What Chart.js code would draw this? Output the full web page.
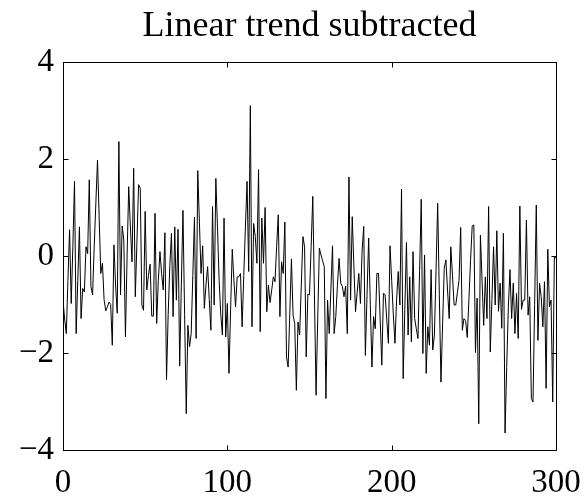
<!DOCTYPE html>
<html>
<head>
<meta charset="utf-8">
<script src="https://cdn.jsdelivr.net/npm/chart.js@4/dist/chart.umd.min.js"></script>
<style>
  html, body { margin: 0; padding: 0; background: #fff; }
  #wrap { width: 588px; height: 497px; position: relative; }
</style>
</head>
<body>
<div id="wrap"><canvas id="c" width="588" height="497"></canvas></div>
<script>
const titleText = "Linear trend subtracted";
const xTicks = [0, 100, 200, 300];
const yTicks = [-4, -2, 0, 2, 4];
const residuals = [
  -0.91, -1.3, -1.6, -0.5, 0.54, -0.98, 0.2, 1.54, -1.6, -0.5,
  0.6, -1.29, -0.67, -0.74, 0.19, 0.05, 1.57, -0.63, -0.8, 0.2,
  1.1, 1.98, 0.8, -0.36, -0.15, -0.9, -1.13, -1.05, -0.95, -1.0,
  -1.84, 0.23, -0.6, -1.18, 2.36, -0.8, 0.62, 0.33, -1.67, 0.0,
  1.43, 0.6, -0.12, 1.81, -0.84, 0.3, 1.47, 1.4, -1.01, -1.12,
  0.92, -0.7, -0.4, -0.17, -1.24, -1.24, 0.88, -1.39, -0.5, 0.09,
  -0.36, -0.7, 0.48, -2.55, -1.2, -0.2, 0.47, -1.25, 0.6, -0.91,
  0.55, -2.27, -0.6, 0.94, -1.2, -3.25, -1.43, -1.87, -1.6, -0.4,
  0.8, -1.7, 1.76, 0.7, -0.36, 0.21, -1.08, -0.6, -0.22, -0.9,
  -1.53, 1.02, -1.01, 1.6, 0.6, -0.5, -1.2, -1.63, 0.78, -1.67,
  -0.98, -2.42, -1.1, 0.14, -0.5, -1.05, -0.43, -0.43, -0.36, -1.46,
  -0.4, 0.6, 1.54, -0.32, 3.1, -1.46, 0.67, 0.4, -0.15, 1.78,
  -1.56, 0.78, -0.15, 1.0, -1.15, -0.6, -0.96, -0.7, -0.43, -0.53,
  0.2, 0.85, -1.25, -0.12, -0.36, 0.7, -2.08, -2.29, -1.2, -0.06,
  -1.22, -1.39, -2.77, -1.36, -1.63, -0.6, 0.4, 0.19, -2.08, -0.79,
  -0.8, 0.2, 1.23, -0.8, -2.87, -1.3, 0.16, 0.02, -0.1, -0.22,
  -2.94, -0.91, -1.6, -0.7, 0.21, -1.6, -1.25, -0.6, -0.05, -0.56,
  -0.63, -0.84, -0.62, -1.6, 1.63, -0.91, 0.81, -0.2, -1.15, -0.75,
  -0.36, -0.98, 0.1, 0.61, -2.05, -0.8, 0.37, -1.0, -2.29, -1.25,
  -1.5, -0.36, -0.36, -1.3, -2.25, -0.77, -0.8, -1.3, -1.8, 0.21,
  -0.5, -1.2, -1.8, -0.9, -0.32, -1.01, 1.38, -2.53, -1.1, 0.28,
  -1.63, -0.43, -1.77, 0.09, -1.29, -1.5, -1.7, -0.3, 1.17, -2.01,
  0.02, -2.42, -1.46, -1.84, -0.28, -1.94, -1.63, -0.3, 1.09, -0.8,
  -2.6, -1.4, -0.25, -0.08, -0.7, -1.29, 0.19, -0.4, -1.01, -1.01,
  -0.75, -0.5, 0.59, -1.53, -1.29, -1.33, -1.68, -0.9, -0.1, 0.62,
  0.64, -1.99, -0.87, -3.46, 0.43, -0.5, -1.43, -0.43, -1.29, 1.02,
  -1.98, -0.9, 0.19, -1.01, 0.52, -1.14, -0.56, -1.49, 0.47, -3.65,
  -2.3, -1.05, -0.28, -1.29, -0.56, -1.6, -0.77, -1.7, 1.03, -1.1,
  -0.91, -0.91, 0.74, -1.22, -0.84, -2.94, -3.01, -1.0, 1.05, -1.74,
  -0.56, -0.84, -1.46, -0.53, -2.73, 0.14, -1.05, -0.91, -3.01, -0.01,
  -0.05
];
const sampleIndex = residuals.map((_, i) => i);

const FONT = "'Liberation Serif', 'Times New Roman', serif";

const framePlugin = {
  id: 'frame',
  afterDraw(chart) {
    const { ctx, chartArea: a, scales } = chart;
    const L = Math.round(a.left) + 0.5, R = Math.round(a.right) + 0.5;
    const T = Math.round(a.top) + 0.5, B = Math.round(a.bottom) + 0.5;
    ctx.save();
    ctx.strokeStyle = '#000';
    ctx.lineWidth = 1;
    ctx.strokeRect(L, T, R - L, B - T);
    const len = 5;
    ctx.beginPath();
    xTicks.forEach(v => {
      const px = Math.round(scales.x.getPixelForValue(v)) + 0.5;
      ctx.moveTo(px, B); ctx.lineTo(px, B - len);
      ctx.moveTo(px, T); ctx.lineTo(px, T + len);
    });
    yTicks.forEach(v => {
      const py = Math.round(scales.y.getPixelForValue(v)) + 0.5;
      ctx.moveTo(L, py); ctx.lineTo(L + len, py);
      ctx.moveTo(R, py); ctx.lineTo(R - len, py);
    });
    ctx.stroke();
    // title centred over the plot area
    ctx.fillStyle = '#000';
    ctx.font = "36px " + FONT;
    ctx.textAlign = 'center';
    ctx.textBaseline = 'alphabetic';
    ctx.fillText(titleText, (a.left + a.right) / 2, 36);
    ctx.restore();
  }
};

new Chart(document.getElementById('c'), {
  type: 'line',
  data: {
    labels: sampleIndex,
    datasets: [{
      data: sampleIndex.map((x, i) => ({ x: x, y: residuals[i] })),
      borderColor: '#000',
      borderWidth: 1,
      pointRadius: 0,
      tension: 0,
      fill: false
    }]
  },
  options: {
    responsive: false,
    animation: false,
    devicePixelRatio: 1,
    layout: { padding: { left: 0, right: 32, top: 62, bottom: 0 } },
    plugins: { legend: { display: false }, title: { display: false }, tooltip: { enabled: false } },
    scales: {
      x: {
        type: 'linear',
        min: 0, max: 300,
        afterFit(s) { s.height = 47; s.paddingLeft = 0; s.paddingRight = 0; },
        afterBuildTicks(s) { s.ticks = xTicks.map(v => ({ value: v })); },
        grid: { display: false, drawTicks: false },
        border: { display: false },
        ticks: { color: '#000', font: { family: FONT, size: 33 }, padding: 14, maxRotation: 0, autoSkip: false }
      },
      y: {
        type: 'linear',
        min: -4, max: 4,
        afterFit(s) { s.width = 63; s.paddingTop = 0; s.paddingBottom = 0; },
        afterBuildTicks(s) { s.ticks = yTicks.map(v => ({ value: v })); },
        grid: { display: false, drawTicks: false },
        border: { display: false },
        ticks: {
          color: '#000', font: { family: FONT, size: 33 }, padding: 9,
          callback: v => (v < 0 ? '\u2212' + Math.abs(v) : String(v))
        }
      }
    }
  },
  plugins: [framePlugin]
});
</script>
</body>
</html>
